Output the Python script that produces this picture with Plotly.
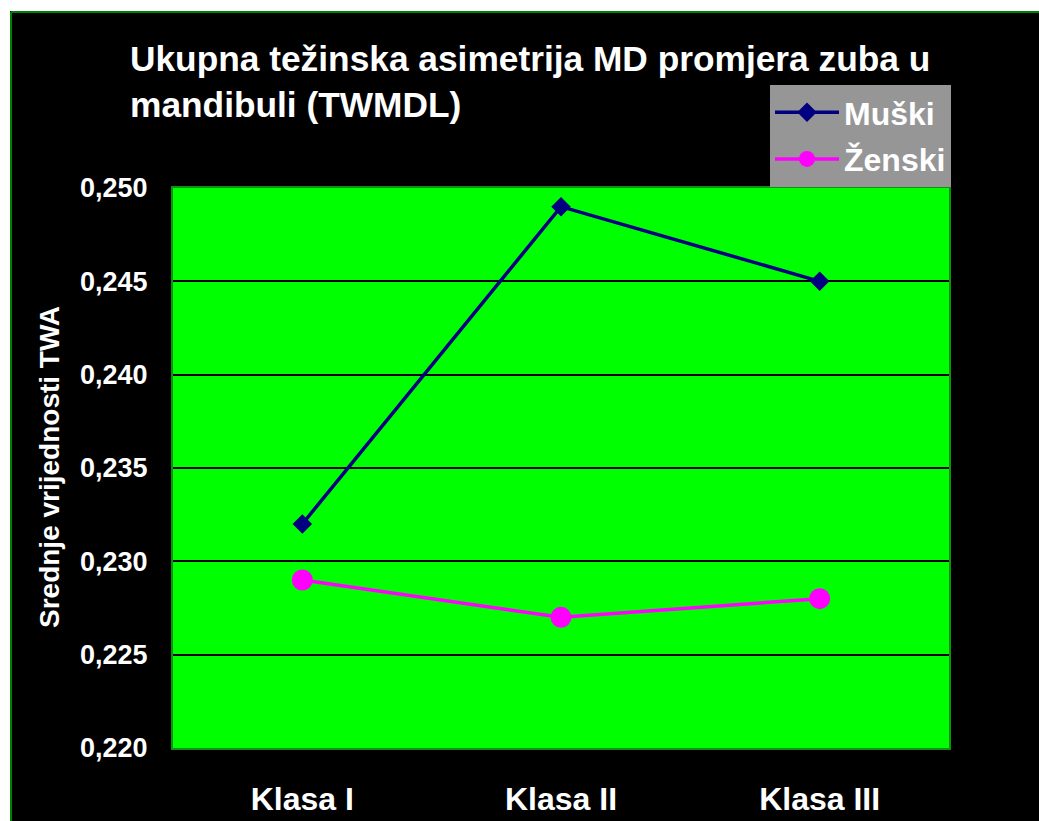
import plotly.graph_objects as go

# Data
categories = ["Klasa I", "Klasa II", "Klasa III"]
muski = [0.232, 0.249, 0.245]
zenski = [0.229, 0.227, 0.228]

W, H = 1039, 821
L, R, T, B = 173, 949, 188, 748  # plot area in pixels


def px_x(px):
    return (px - L) / (R - L)


def px_y(py):
    return (B - py) / (B - T)


font_family = "Arial, Liberation Sans, sans-serif"

fig = go.Figure()
fig.add_trace(go.Scatter(
    x=categories, y=muski, name="Muški", mode="lines+markers",
    line=dict(color="#000080", width=3.5),
    marker=dict(symbol="diamond", size=15, color="#000080"),
    legendgroup="m",
))
fig.add_trace(go.Scatter(
    x=categories, y=zenski, name="Ženski", mode="lines+markers",
    line=dict(color="#FF00FF", width=3.5),
    marker=dict(symbol="circle", size=21, color="#FF00FF"),
    legendgroup="z",
))

shapes = [
    # white page strips outside the black chart frame
    dict(type="rect", xref="paper", yref="paper",
         x0=px_x(-5), x1=px_x(10), y0=px_y(830), y1=px_y(-5),
         fillcolor="white", line_width=0, layer="above"),
    dict(type="rect", xref="paper", yref="paper",
         x0=px_x(-5), x1=px_x(1045), y0=px_y(11), y1=px_y(-5),
         fillcolor="white", line_width=0, layer="above"),
    # green frame edges
    dict(type="line", xref="paper", yref="paper",
         x0=px_x(11), x1=px_x(11), y0=px_y(830), y1=px_y(12),
         line=dict(color="#008000", width=2), layer="above"),
    dict(type="line", xref="paper", yref="paper",
         x0=px_x(11), x1=px_x(1045), y0=px_y(12), y1=px_y(12),
         line=dict(color="#008000", width=2), layer="above"),
]

fig.update_layout(
    width=W, height=H,
    margin=dict(l=L, r=W - R, t=T, b=H - B, pad=0, autoexpand=False),
    paper_bgcolor="black",
    plot_bgcolor="#00FF00",
    separators=", ",
    font=dict(family=font_family, color="white", weight="bold"),
    showlegend=True,
    legend=dict(
        x=px_x(770), y=px_y(85), xanchor="left", yanchor="top",
        xref="paper", yref="paper",
        bgcolor="#969696", borderwidth=0,
        font=dict(size=32, color="white", family=font_family, weight="bold"),
        tracegroupgap=2, itemwidth=64,
    ),
    shapes=shapes,
    annotations=[
        dict(text="Ukupna težinska asimetrija MD promjera zuba u<br>mandibuli (TWMDL)",
             xref="paper", yref="paper", x=px_x(128), y=px_y(37),
             xanchor="left", yanchor="top", align="left", showarrow=False,
             font=dict(size=35.3, color="white", family=font_family, weight="bold")),
        dict(text="Srednje vrijednosti TWA",
             xref="paper", yref="paper", x=px_x(49), y=px_y(467),
             xanchor="center", yanchor="middle", textangle=-90, showarrow=False,
             font=dict(size=28, color="white", family=font_family, weight="bold")),
    ],
)

fig.update_xaxes(
    type="category", range=[-0.5, 2.5], automargin=False,
    showgrid=False, zeroline=False,
    showline=True, mirror=True, linecolor="#119111", linewidth=2,
    ticks="", ticklabelstandoff=22,
    tickfont=dict(size=32, color="white", family=font_family, weight="bold"),
)
fig.update_yaxes(
    range=[0.220, 0.250], dtick=0.005, tick0=0.220, tickformat=".3f",
    automargin=False,
    showgrid=True, gridcolor="black", gridwidth=2, zeroline=False,
    showline=True, mirror=True, linecolor="#119111", linewidth=2,
    ticks="", ticklabelstandoff=18,
    tickfont=dict(size=27, color="white", family=font_family, weight="bold"),
)

fig.write_html("out.html")
